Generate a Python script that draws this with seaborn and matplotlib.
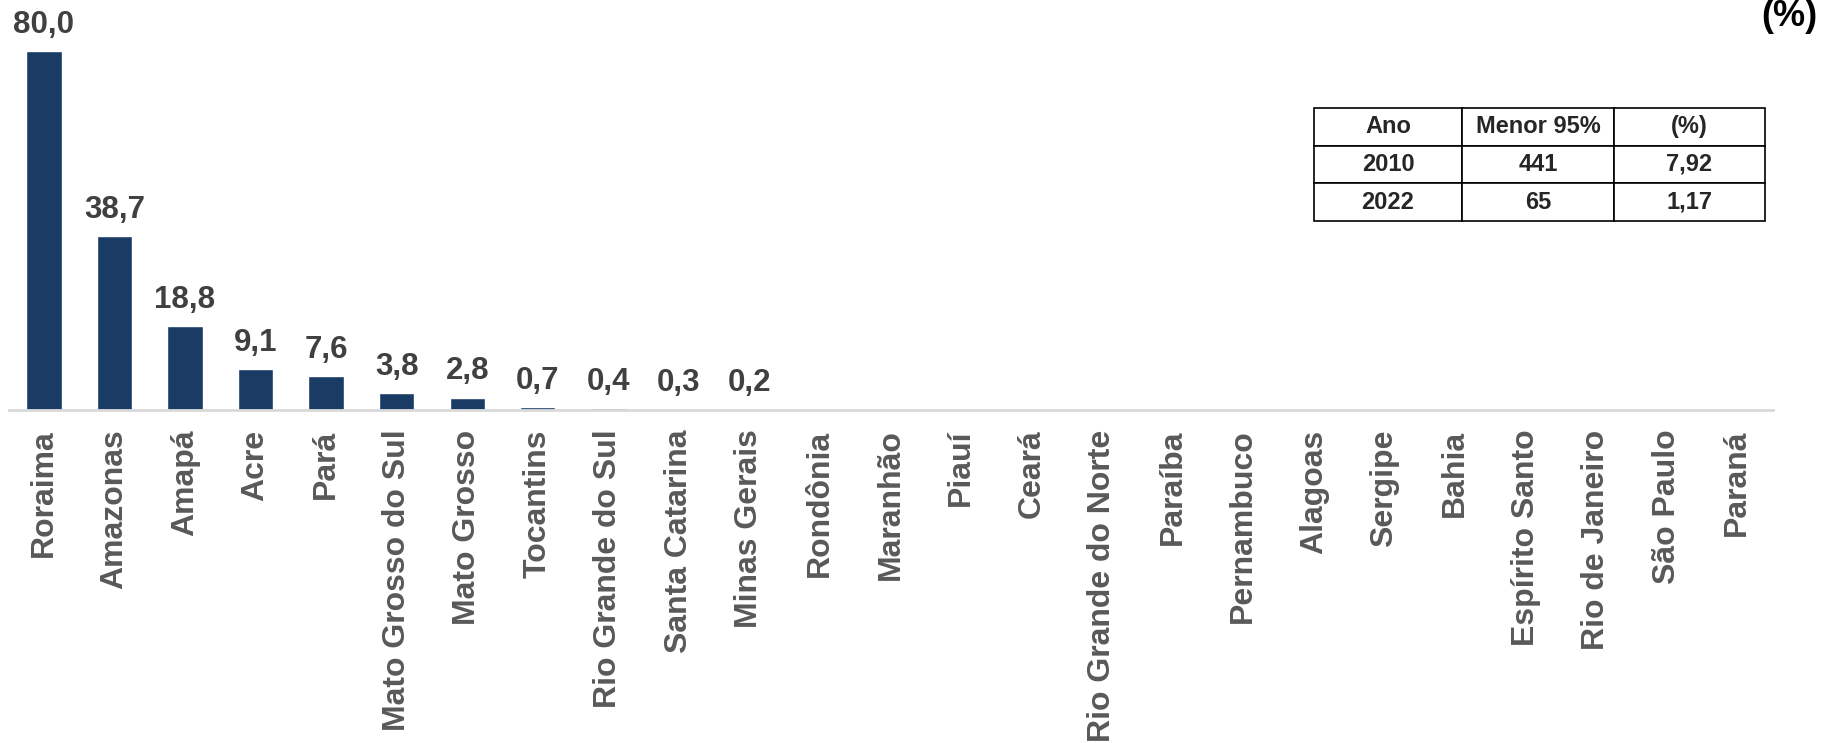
import matplotlib
matplotlib.use("Agg")
import matplotlib.pyplot as plt
import seaborn as sns
import pandas as pd

estados = ["Roraima", "Amazonas", "Amapá", "Acre", "Pará", "Mato Grosso do Sul",
           "Mato Grosso", "Tocantins", "Rio Grande do Sul", "Santa Catarina",
           "Minas Gerais", "Rondônia", "Maranhão", "Piauí", "Ceará",
           "Rio Grande do Norte", "Paraíba", "Pernambuco", "Alagoas", "Sergipe",
           "Bahia", "Espírito Santo", "Rio de Janeiro", "São Paulo", "Paraná"]
percentual = [80.0, 38.7, 18.8, 9.1, 7.6, 3.8, 2.8, 0.7, 0.4, 0.3, 0.2,
              0, 0, 0, 0, 0, 0, 0, 0, 0, 0, 0, 0, 0, 0]

tab_ano = ["2010", "2022"]
tab_menor = ["441", "65"]
tab_pct = ["7,92", "1,17"]

df = pd.DataFrame({"estado": estados, "v": percentual})

sns.set_style("white")
plt.rcParams["font.family"] = ["Liberation Sans", "DejaVu Sans"]

fig = plt.figure(figsize=(18.27, 7.43), dpi=100)
ax = fig.add_axes([0.0047, 0.448, 0.9655, 0.525])

sns.barplot(data=df, x="estado", y="v", color="#1a3c64", width=0.5,
            saturation=1, ax=ax)

ax.set_ylim(0, 86.9)
ax.set_xlim(-0.5, len(estados) - 0.5)
ax.set_yticks([])
ax.set_xlabel("")
ax.set_ylabel("")
for s in ["top", "left", "right"]:
    ax.spines[s].set_visible(False)
ax.spines["bottom"].set_color("#d9d9d9")
ax.spines["bottom"].set_linewidth(2)

ax.tick_params(axis="x", length=0, pad=14)
plt.xticks(rotation=90, fontsize=23, fontweight="bold", color="#595959")

for i, v in enumerate(percentual):
    if v > 0:
        ax.annotate(f"{v:.1f}".replace(".", ","), (i, v), xytext=(0, 8),
                    textcoords="offset points", ha="center", va="bottom",
                    fontsize=22.5, fontweight="bold", color="#404040")

# tabela
cells = [["Ano", "Menor 95%", "(%)"]] + [[a, b, c] for a, b, c in zip(tab_ano, tab_menor, tab_pct)]
tb = fig.add_axes([1314 / 1827, 1 - 221 / 743, (1765 - 1314) / 1827, (221 - 108) / 743])
tb.axis("off")
t = tb.table(cellText=cells, cellLoc="center", bbox=[0, 0, 1, 1],
             colWidths=[148, 152, 151])
t.auto_set_font_size(False)
for (r, c), cell in t.get_celld().items():
    cell.set_edgecolor("black")
    cell.set_linewidth(1.2)
    cell.get_text().set_fontsize(17)
    cell.get_text().set_fontweight("bold")

fig.text(0.9947, 0.978, "(%)", ha="right", va="center", fontsize=26, fontweight="bold",
         color="black")

plt.savefig("out.png", dpi=100)
